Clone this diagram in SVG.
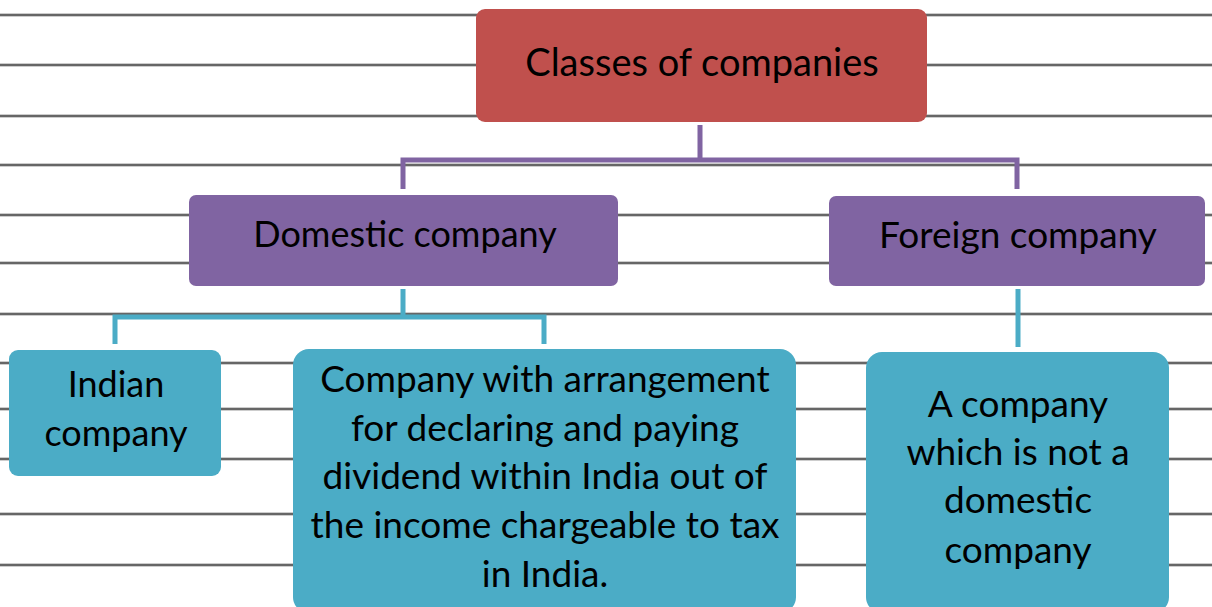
<svg xmlns="http://www.w3.org/2000/svg" width="1212" height="607" viewBox="0 0 1212 607">
  <style>
    .rule-halo { stroke: #bdbdbd; stroke-width: 3.4; }
    .rule-core { stroke: #4a4a4a; stroke-width: 1.5; }
    .root { fill: #c0504d; }
    .mid { fill: #8064a2; }
    .leaf { fill: #4bacc6; }
    .label { font-family: Lato, "Open Sans", sans-serif; fill: #000; text-anchor: middle; }
    .c-purple { stroke: #8064a2; stroke-width: 5; fill: none; }
    .c-blue { stroke: #4bacc6; stroke-width: 5; fill: none; }
  </style>

  <!-- ruled paper background -->
  <rect x="0" y="0" width="1212" height="607" fill="#ffffff"/>
  <defs>
    <g id="rules">
      <line x1="0" y1="15" x2="1212" y2="15"/>
      <line x1="0" y1="65" x2="1212" y2="65"/>
      <line x1="0" y1="116" x2="1212" y2="116"/>
      <line x1="0" y1="165" x2="1212" y2="165"/>
      <line x1="0" y1="215" x2="1212" y2="215"/>
      <line x1="0" y1="263" x2="1212" y2="263"/>
      <line x1="0" y1="314" x2="1212" y2="314"/>
      <line x1="0" y1="363" x2="1212" y2="363"/>
      <line x1="0" y1="409" x2="1212" y2="409"/>
      <line x1="0" y1="459" x2="1212" y2="459"/>
      <line x1="0" y1="514" x2="1212" y2="514"/>
      <line x1="0" y1="565" x2="1212" y2="565"/>
    </g>
  </defs>
  <g id="ruling">
    <use href="#rules" class="rule-halo"/>
    <use href="#rules" class="rule-core"/>
  </g>

  <!-- connectors -->
  <g id="connectors">
    <path class="c-purple" d="M700 125 V160 M403 189 V160 H1017 V189"/>
    <path class="c-blue" d="M403 289 V317 M115 344 V317 H544 V344"/>
    <path class="c-blue" d="M1018 289 V347"/>
  </g>

  <g id="node-classes">
    <rect class="root" x="476" y="9" width="451" height="113" rx="9"/>
    <text class="label" x="702" y="76" font-size="38">Classes of companies</text>
  </g>

  <g id="node-domestic">
    <rect class="mid" x="189" y="195" width="429" height="91" rx="7"/>
    <text class="label" x="405" y="247" font-size="36">Domestic company</text>
  </g>

  <g id="node-foreign">
    <rect class="mid" x="829" y="196" width="376" height="90" rx="7"/>
    <text class="label" x="1018" y="248" font-size="37">Foreign company</text>
  </g>

  <g id="node-indian">
    <rect class="leaf" x="9" y="350" width="212" height="126" rx="9"/>
    <text class="label" x="116" y="397" font-size="36">Indian</text>
    <text class="label" x="116" y="446" font-size="36">company</text>
  </g>

  <g id="node-arrangement">
    <rect class="leaf" x="293" y="349" width="503" height="264" rx="16"/>
    <text class="label" x="545" y="392" font-size="37">Company with arrangement</text>
    <text class="label" x="545" y="441" font-size="37">for declaring and paying</text>
    <text class="label" x="545" y="489" font-size="37">dividend within India out of</text>
    <text class="label" x="545" y="538" font-size="37">the income chargeable to tax</text>
    <text class="label" x="545" y="587" font-size="37">in India.</text>
  </g>

  <g id="node-not-domestic">
    <rect class="leaf" x="866" y="352" width="303" height="261" rx="16"/>
    <text class="label" x="1018" y="417" font-size="37">A company</text>
    <text class="label" x="1018" y="465" font-size="37">which is not a</text>
    <text class="label" x="1018" y="513" font-size="37">domestic</text>
    <text class="label" x="1018" y="563" font-size="37">company</text>
  </g>
</svg>
